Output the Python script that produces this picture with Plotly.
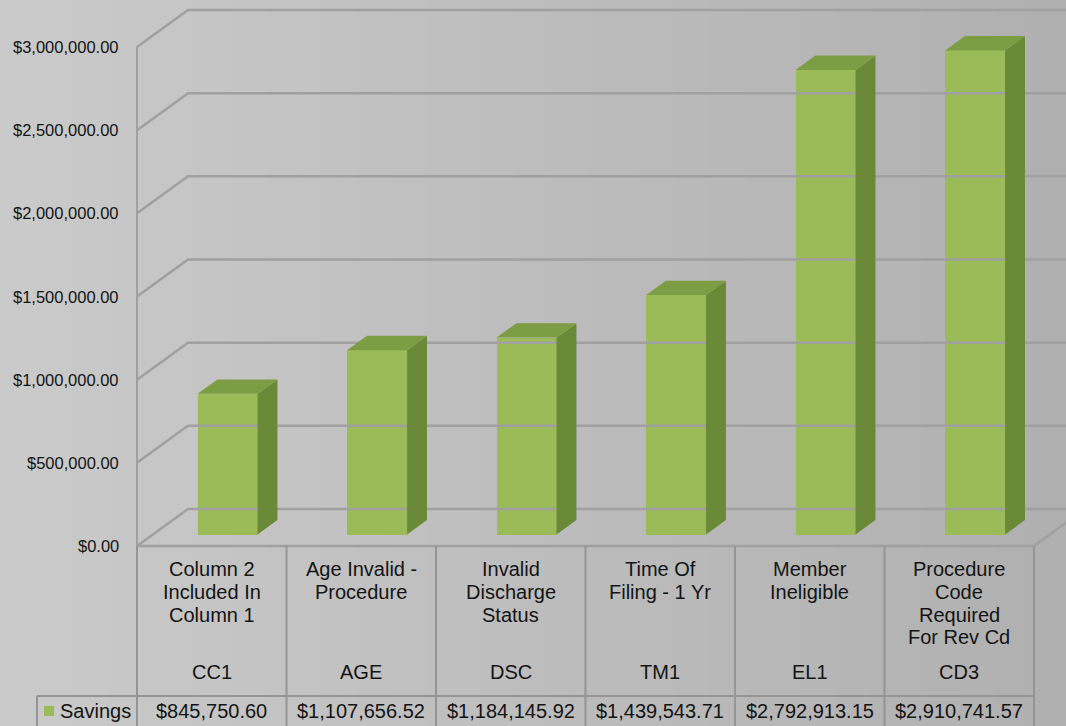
import plotly.graph_objects as go

# ---------------- data ----------------
codes = ["CC1", "AGE", "DSC", "TM1", "EL1", "CD3"]
descriptions = [
    "Column 2<br>Included In<br>Column 1",
    "Age Invalid -<br>Procedure",
    "Invalid<br>Discharge<br>Status",
    "Time Of<br>Filing - 1 Yr",
    "Member<br>Ineligible",
    "Procedure<br>Code<br>Required<br>For Rev Cd",
]
savings = [845750.60, 1107656.52, 1184145.92, 1439543.71, 2792913.15, 2910741.57]
tick_values = [0, 500000, 1000000, 1500000, 2000000, 2500000, 3000000]
series_name = "Savings"

# ---------------- layout geometry (pixels) ----------------
W, H = 1066, 726
X0_PX = 137          # left edge of first category slot on front plane
CAT_PX = 149.5       # width of one category slot
Y0_PX = 546          # front-plane zero line
Y_PER_UNIT = 499 / 3_000_000
DEPTH_DX_PX, DEPTH_DY_PX = 51, 37

x_lo = -0.5 - X0_PX / CAT_PX
x_hi = x_lo + W / CAT_PX
y_lo = -(H - Y0_PX) / Y_PER_UNIT
y_hi = y_lo + H / Y_PER_UNIT

DX = DEPTH_DX_PX / CAT_PX
DY = DEPTH_DY_PX / Y_PER_UNIT
n = len(codes)
x_right = n - 0.5


def proj(x, v, d):
    return x + d * DX, v + d * DY


def px_x(px):
    return x_lo + px / CAT_PX


def py(pix):
    return 1 - pix / H


BG_LEFT, BG_RIGHT = 202, 176
GRID = "#a0a0a0"
TABLE_LINE = "#959595"
FRONT = "#9bbb59"
SIDE = "#6b8a37"
TOP = "#7d9d45"
TXT = "#141414"
FONT = "Liberation Sans, Arial, sans-serif"

fig = go.Figure()

shapes = []
# soft left-to-right background shading
BANDS = 60
for b in range(BANDS):
    t = b / (BANDS - 1)
    g = round(BG_LEFT + (BG_RIGHT - BG_LEFT) * t)
    shapes.append(dict(type="rect", xref="paper", yref="paper", x0=b / BANDS,
                       x1=(b + 1) / BANDS + 0.002, y0=0, y1=1, layer="below",
                       fillcolor=f"rgb({g},{g},{g})", line=dict(width=0)))

# gridlines on left wall + back wall
for v in tick_values:
    ax, ay = proj(-0.5, v, 0)
    bx, by = proj(-0.5, v, 1)
    cx, cy = x_hi + 1, by
    fig.add_trace(go.Scatter(x=[ax, bx, cx], y=[ay, by, cy], mode="lines",
                             line=dict(color=GRID, width=2.5), hoverinfo="skip",
                             showlegend=False))

# floor edges and y-axis line
fx0, fy0 = proj(-0.5, 0, 0)
fx1, fy1 = proj(x_right, 0, 0)
fx2, fy2 = proj(x_right, 0, 1)
fig.add_trace(go.Scatter(x=[fx2, fx1, fx0], y=[fy2, fy1, fy0], mode="lines",
                         line=dict(color=GRID, width=2.5), hoverinfo="skip", showlegend=False))
fig.add_trace(go.Scatter(x=[-0.5, -0.5], y=[0, tick_values[-1]], mode="lines",
                         line=dict(color=GRID, width=2), hoverinfo="skip", showlegend=False))

# bars
D_FRONT, D_BACK = 0.31, 0.70
BAR_W = 60 / CAT_PX
centers = [i + D_FRONT * DX for i in range(n)]
base = D_FRONT * DY
fig.add_trace(go.Bar(x=centers, y=savings, base=base, width=BAR_W,
                     marker=dict(color=FRONT, line=dict(width=0)),
                     name=series_name, showlegend=False))
for i, v in enumerate(savings):
    xl = centers[i] - BAR_W / 2
    xr = centers[i] + BAR_W / 2
    ddx = (D_BACK - D_FRONT) * DX
    ddy = (D_BACK - D_FRONT) * DY
    sx = [xr, xr + ddx, xr + ddx, xr, xr]
    sy = [base, base + ddy, base + ddy + v, base + v, base]
    fig.add_trace(go.Scatter(x=sx, y=sy, fill="toself", fillcolor=SIDE, mode="lines",
                             line=dict(width=0, color=SIDE), hoverinfo="skip", showlegend=False))
    tx = [xl, xr, xr + ddx, xl + ddx, xl]
    ty = [base + v, base + v, base + v + ddy, base + v + ddy, base + v]
    fig.add_trace(go.Scatter(x=tx, y=ty, fill="toself", fillcolor=TOP, mode="lines",
                             line=dict(width=0, color=TOP), hoverinfo="skip", showlegend=False))

annotations = []

# y tick labels
for v in tick_values:
    annotations.append(dict(x=-0.5 - 16 / CAT_PX, y=v, xref="x", yref="y",
                            text=f"${v:,.2f}", showarrow=False, xanchor="right",
                            yanchor="middle", font=dict(family=FONT, size=16.5, color=TXT)))

# data table lines
TOP_PX, ROW_PX, BOT_PX = Y0_PX, 696, H + 2
for k in range(n + 1):
    shapes.append(dict(type="line", xref="x", yref="paper", x0=k - 0.5, x1=k - 0.5,
                       y0=py(TOP_PX), y1=py(BOT_PX), line=dict(color=TABLE_LINE, width=2)))
shapes.append(dict(type="line", xref="x", yref="paper", x0=px_x(37), x1=x_right,
                   y0=py(ROW_PX), y1=py(ROW_PX), line=dict(color=TABLE_LINE, width=2)))
shapes.append(dict(type="line", xref="x", yref="paper", x0=px_x(37), x1=px_x(37),
                   y0=py(ROW_PX), y1=py(BOT_PX), line=dict(color=TABLE_LINE, width=2)))
# legend key
shapes.append(dict(type="rect", xref="x", yref="paper", x0=px_x(44), x1=px_x(54),
                   y0=py(716), y1=py(706), fillcolor=FRONT, line=dict(width=0)))

TFONT = dict(family=FONT, size=20, color=TXT)
for i in range(n):
    for j, line in enumerate(descriptions[i].split("<br>")):
        annotations.append(dict(x=i, y=py(569 + j * 22.8), xref="x", yref="paper", text=line,
                                showarrow=False, xanchor="center", yanchor="middle", font=TFONT))
    annotations.append(dict(x=i, y=py(672), xref="x", yref="paper", text=codes[i],
                            showarrow=False, xanchor="center", yanchor="middle", font=TFONT))
    annotations.append(dict(x=i, y=py(711), xref="x", yref="paper", text=f"${savings[i]:,.2f}",
                            showarrow=False, xanchor="center", yanchor="middle", font=TFONT))
annotations.append(dict(x=px_x(58), y=py(711), xref="x", yref="paper", text=series_name,
                        showarrow=False, xanchor="left", yanchor="middle", font=TFONT))

fig.update_layout(
    width=W, height=H, margin=dict(l=0, r=0, t=0, b=0),
    paper_bgcolor=f"rgb({BG_LEFT},{BG_LEFT},{BG_LEFT})", plot_bgcolor="rgba(0,0,0,0)",
    xaxis=dict(range=[x_lo, x_hi], visible=False, fixedrange=True, domain=[0, 1]),
    yaxis=dict(range=[y_lo, y_hi], visible=False, fixedrange=True, domain=[0, 1]),
    shapes=shapes, annotations=annotations, showlegend=False, bargap=0,
)

fig.write_html("out.html", config={"displayModeBar": False})
